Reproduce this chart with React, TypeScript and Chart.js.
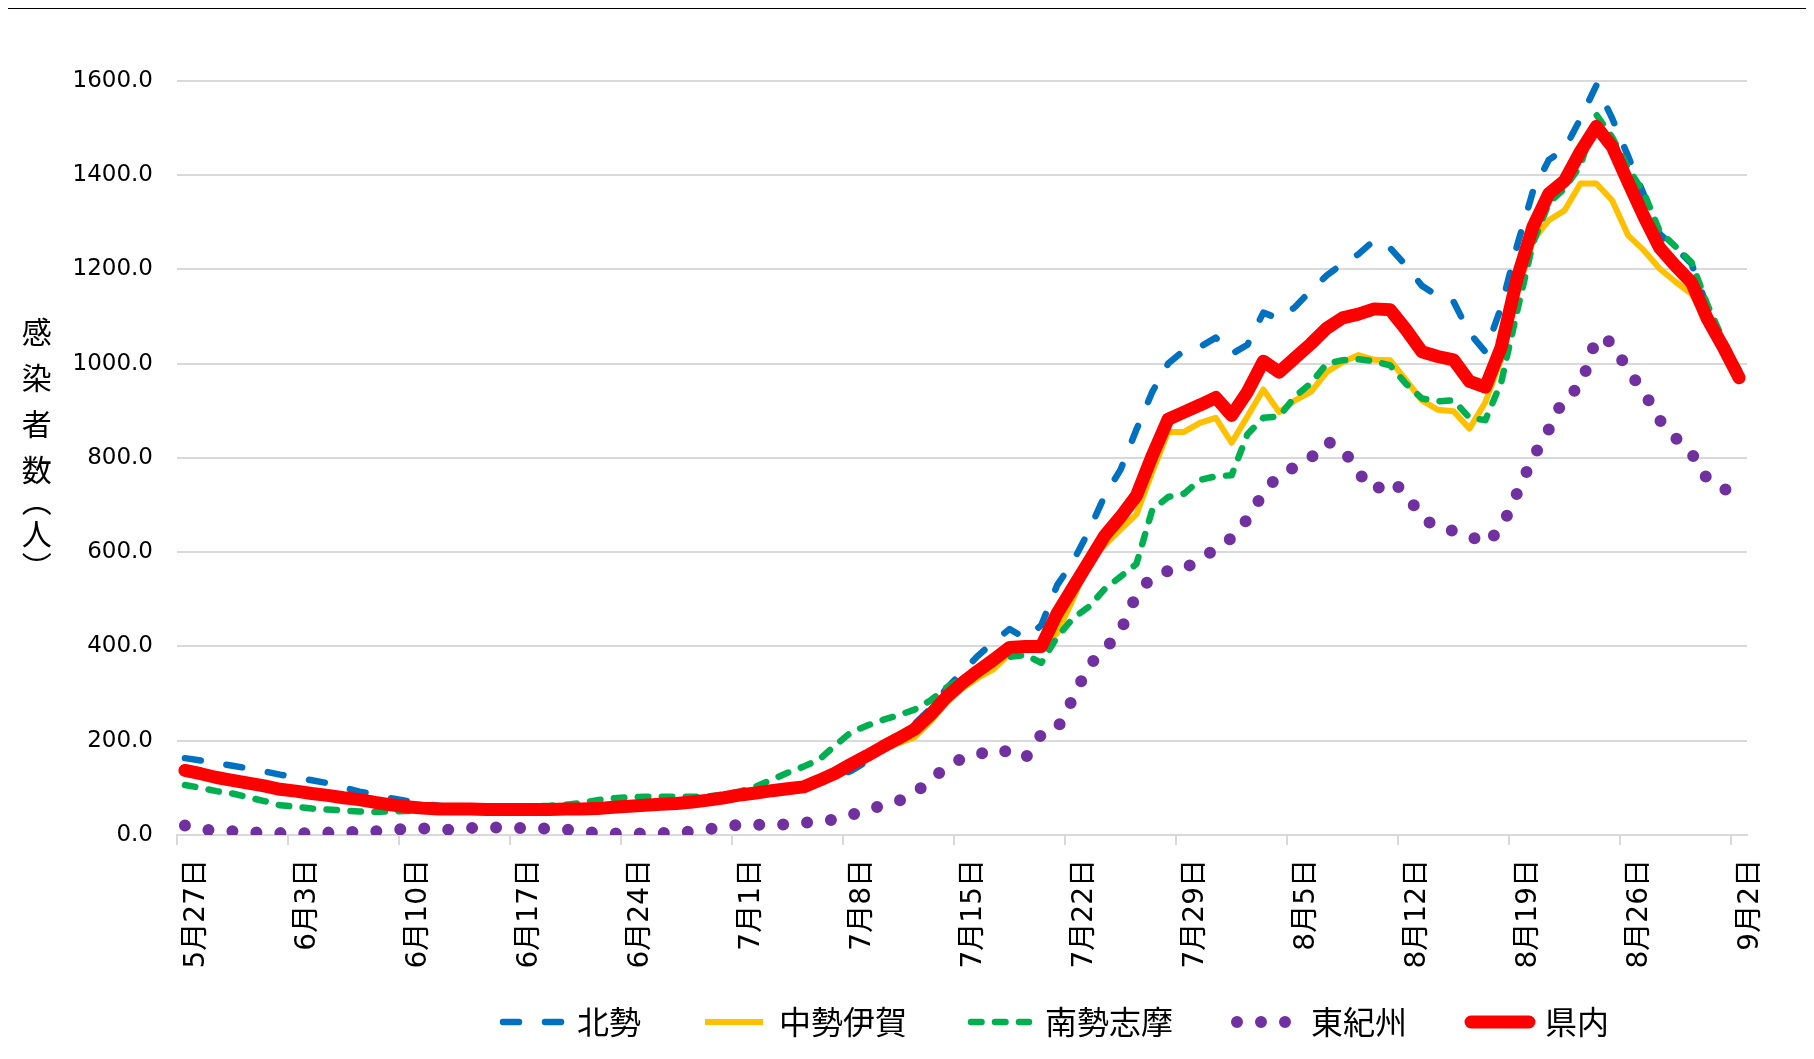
import React, { useEffect, useRef } from 'react';
import { Chart, registerables } from 'chart.js';

Chart.register(...registerables);

// ---- categories (5/27 .. 9/2, daily) ----
const START_MONTH = 5;
const START_DAY = 27;
const DAY_COUNT = 99;
const MONTH_LENGTHS: Record<number, number> = { 5: 31, 6: 30, 7: 31, 8: 31, 9: 30 };
function buildCategories(): string[] {
  const out: string[] = [];
  let m = START_MONTH;
  let d = START_DAY;
  for (let i = 0; i < DAY_COUNT; i++) {
    out.push(`${m}月${d}日`);
    d++;
    if (d > MONTH_LENGTHS[m]) { d = 1; m++; }
  }
  return out;
}
const categories = buildCategories();
const TICK_EVERY = 7;

// ---- y axis ----
const Y_MIN = 0;
const Y_MAX = 1600;
const Y_STEP = 200;
const yAxisTitle = '感染者数（人）';

// ---- series ----
const seriesLabels = ['北勢', '中勢伊賀', '南勢志摩', '東紀州', '県内'];

const hokusei = [
  163, 158, 152, 147, 141, 135, 128, 122, 116, 110,
  101, 92, 86, 78, 72, 66, 62, 58, 56, 55,
  55, 55, 55, 55, 56, 56, 57, 60, 62, 63,
  65, 67, 70, 74, 78, 82, 86, 90, 95, 100,
  110, 122, 136, 156, 182, 208, 235, 268, 310, 345,
  380, 410, 437, 417, 445, 530, 580, 645, 720, 775,
  860, 940, 1000, 1028, 1035, 1055, 1020, 1040, 1108, 1095,
  1120, 1155, 1187, 1212, 1232, 1262, 1245, 1208, 1165, 1143,
  1131, 1065, 1025, 1120, 1250, 1365, 1432, 1455, 1520, 1590,
  1520, 1440, 1358, 1275, 1245, 1212, 1120, 1045, 980,
];

const chuseiIga = [
  134, 127, 119, 113, 106, 99, 91, 88, 84, 80,
  76, 72, 67, 62, 58, 55, 53, 53, 53, 52,
  52, 52, 52, 52, 53, 53, 54, 56, 58, 60,
  62, 64, 66, 69, 74, 80, 86, 91, 96, 100,
  113, 127, 146, 163, 180, 195, 207, 240, 280, 310,
  333, 352, 385, 395, 398, 428, 500, 580, 615, 648,
  680, 770, 855, 855, 874, 885, 832, 888, 945, 897,
  922, 940, 982, 1003, 1018, 1008, 1007, 965, 922, 902,
  899, 862, 918, 1010, 1150, 1261, 1304, 1325, 1382, 1382,
  1346, 1272, 1240, 1201, 1173, 1148, 1090, 1040, 985,
];

const nanseiShima = [
  106, 100, 93, 88, 80, 72, 63, 60, 56, 54,
  52, 50, 49, 50, 51, 52, 53, 54, 55, 56,
  58, 60, 61, 62, 64, 68, 74, 78, 80, 81,
  81, 81, 81, 82, 86, 92, 103, 117, 132, 145,
  160, 190, 218, 232, 244, 254, 266, 285, 312, 332,
  350, 368, 378, 382, 365, 420, 460, 484, 522, 548,
  575, 690, 717, 724, 753, 761, 763, 850, 885, 888,
  930, 958, 1000, 1007, 1009, 1005, 996, 957, 926, 920,
  922, 885, 880, 960, 1110, 1255, 1340, 1372, 1420, 1528,
  1480, 1415, 1362, 1280, 1248, 1215, 1125, 1050, 985,
];

const higashiKishu = [
  20, 12, 9, 8, 6, 5, 4, 3, 4, 5,
  6, 7, 8, 11, 13, 14, 12, 11, 15, 16,
  16, 15, 14, 14, 12, 8, 4, 3, 3, 3,
  4, 6, 7, 12, 18, 22, 22, 20, 23, 26,
  28, 33, 42, 54, 62, 72, 89, 115, 145, 162,
  170, 182, 176, 163, 213, 225, 290, 360, 393, 433,
  510, 548, 560, 563, 588, 605, 630, 670, 725, 765,
  780, 800, 835, 820, 768, 731, 752, 725, 673, 652,
  645, 635, 618, 650, 725, 800, 860, 930, 950, 1055,
  1045, 985, 940, 880, 842, 810, 755, 735, 720,
];

const kennai = [
  137, 130, 122, 116, 110, 104, 97, 93, 88, 84,
  79, 75, 69, 64, 60, 57, 55, 55, 55, 54,
  54, 54, 54, 54, 55, 55, 56, 59, 61, 63,
  65, 67, 70, 74, 79, 85, 89, 94, 98, 102,
  116, 131, 150, 168, 187, 205, 224, 255, 292, 322,
  348, 372, 398, 400, 400, 470, 525, 580, 635, 675,
  720, 805, 882, 897, 912, 928, 890, 940, 1005, 982,
  1012, 1042, 1075, 1097, 1105, 1116, 1114, 1072, 1025, 1015,
  1008, 962, 950, 1035, 1180, 1290, 1360, 1388, 1450, 1503,
  1460, 1385, 1312, 1245, 1207, 1172, 1095, 1035, 970,
];

const LEGEND_SHIFT = 182.5;
const FRAME = { left: 5.5, top: 7, width: 2.5, color: '#000' };

export default function App() {
  const canvasRef = useRef<HTMLCanvasElement | null>(null);

  useEffect(() => {
    if (!canvasRef.current) return;
    const layoutTweak = {
      id: 'layoutTweak',
      afterLayout(chart: any) {
        const lg = chart.legend;
        if (lg) {
          lg.left += LEGEND_SHIFT;
          lg.right += LEGEND_SHIFT;
        }
        const xs = chart.scales.x;
        if (xs) xs.bottom = chart.height;
      },
      afterDraw(chart: any) {
        const { ctx, width, height } = chart;
        ctx.save();
        ctx.fillStyle = FRAME.color;
        ctx.fillRect(FRAME.left, FRAME.top, FRAME.width, height - FRAME.top);
        ctx.fillRect(FRAME.left, FRAME.top, width - FRAME.left, FRAME.width - 0.5);
        ctx.restore();
      },
    };

    const common = {
      pointRadius: 0,
      pointHoverRadius: 0,
      tension: 0,
      fill: false,
      borderJoinStyle: 'round' as const,
      borderCapStyle: 'round' as const,
    };

    const chart = new Chart(canvasRef.current, {
      type: 'line',
      data: {
        labels: categories,
        datasets: [
          { ...common, label: seriesLabels[0], data: hokusei, borderColor: '#0070C0', backgroundColor: '#0070C0', borderWidth: 6.5, borderDash: [16, 26], order: 5 },
          { ...common, label: seriesLabels[1], data: chuseiIga, borderColor: '#FFC000', backgroundColor: '#FFC000', borderWidth: 6, borderCapStyle: 'butt', order: 4 },
          { ...common, label: seriesLabels[2], data: nanseiShima, borderColor: '#00B050', backgroundColor: '#00B050', borderWidth: 6.5, borderDash: [10.5, 13.5], order: 3 },
          { ...common, label: seriesLabels[3], data: higashiKishu, borderColor: '#7030A0', backgroundColor: '#7030A0', borderWidth: 12, borderDash: [0, 24], order: 2 },
          { ...common, label: seriesLabels[4], data: kennai, borderColor: '#FF0000', backgroundColor: '#FF0000', borderWidth: 13, order: 1 },
        ],
      },
      options: {
        responsive: true,
        maintainAspectRatio: false,
        animation: false,
        events: [],
        layout: { padding: { top: 80.7, right: 67, bottom: 11, left: 0 } },
        plugins: {
          tooltip: { enabled: false },
          legend: {
            position: 'bottom',
            labels: {
              usePointStyle: true,
              pointStyle: 'line',
              pointStyleWidth: 58,
              padding: 64,
              color: '#000',
              font: { family: '"Noto Sans CJK JP"', size: 32 },
              generateLabels: (ch: any) =>
                ch.data.datasets.map((ds: any, i: number) => ({
                  text: ds.label,
                  strokeStyle: ds.borderColor,
                  fillStyle: ds.borderColor,
                  lineWidth: ds.borderWidth,
                  lineDash: ds.borderDash || [],
                  lineCap: ds.borderCapStyle || 'round',
                  lineJoin: 'round',
                  pointStyle: 'line',
                  hidden: false,
                  datasetIndex: i,
                  fontColor: '#000',
                })),
            },
          },
        },
        scales: {
          x: {
            type: 'category',
            offset: true,
            grid: {
              offset: true,
              drawOnChartArea: false,
              drawTicks: true,
              tickLength: 10,
              lineWidth: 2,
              color: (ctx: any) =>
                typeof ctx.index === 'number' && ctx.index % TICK_EVERY === 0 && ctx.index < categories.length
                  ? '#d9d9d9'
                  : 'rgba(0,0,0,0)',
            },
            border: { display: true, color: '#d9d9d9', width: 2 },
            ticks: {
              autoSkip: false,
              maxRotation: 90,
              minRotation: 90,
              padding: 14,
              labelOffset: 12,
              color: '#000',
              font: { family: '"DejaVu Sans", "Noto Sans CJK JP"', size: 28 },
              callback: (_v: any, i: number) => (i % TICK_EVERY === 0 ? categories[i] : ''),
            },
            afterFit: (s: any) => { s.height = 107; },
          },
          y: {
            min: Y_MIN,
            max: Y_MAX,
            grid: { color: '#d9d9d9', lineWidth: 2, drawTicks: false },
            border: { display: false },
            ticks: {
              stepSize: Y_STEP,
              padding: 24,
              color: '#000',
              font: { family: '"DejaVu Sans"', size: 23 },
              callback: (v: any) => Number(v).toFixed(1),
            },
            afterFit: (s: any) => { s.width = 177; },
          },
        },
      },
      plugins: [layoutTweak],
    });
    return () => chart.destroy();
  }, []);

  return (
    <div
      style={{
        position: 'relative',
        width: 1814,
        height: 1059,
        margin: '-8px 0 -8px -8px',
        overflow: 'hidden',
        background: '#fff',
      }}
    >
      <div style={{ position: 'absolute', left: 0, top: 0, width: 1814, height: 1059 }}>
        <canvas ref={canvasRef} />
      </div>
      <div
        style={{
          position: 'absolute',
          left: 21.7,
          top: 316.5,
          width: 30,
          writingMode: 'vertical-rl',
          fontFamily: '"Noto Sans CJK JP"',
          fontSize: 30,
          lineHeight: '30px',
          color: '#000',
          whiteSpace: 'nowrap',
        }}
      >
        <span style={{ letterSpacing: 16 }}>{yAxisTitle.slice(0, 4)}</span>
        <span style={{ letterSpacing: 3, fontFeatureSettings: '"vhal" 1' }}>{yAxisTitle.slice(4)}</span>
      </div>
    </div>
  );
}
